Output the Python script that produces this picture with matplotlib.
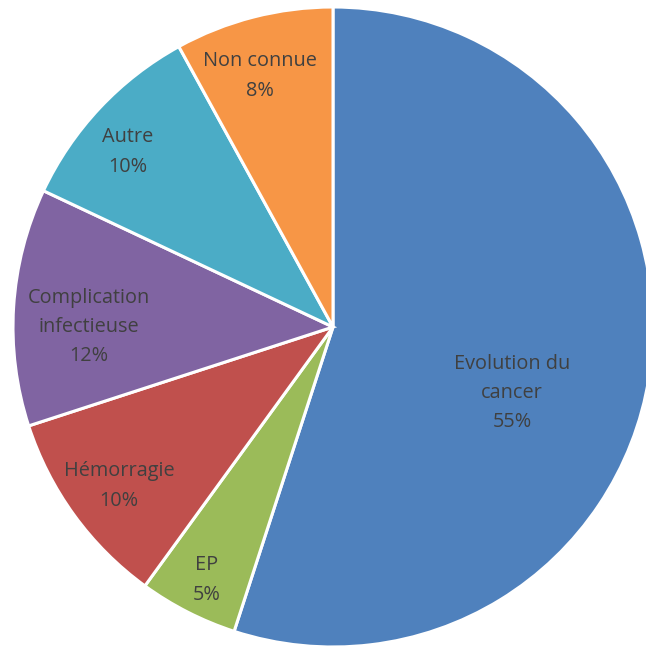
import matplotlib.pyplot as plt

# data (clockwise from 12 o'clock)
categories = ['Evolution du\ncancer', 'EP', 'Hémorragie', 'Complication\ninfectieuse', 'Autre', 'Non connue']
values = [55, 5, 10, 12, 10, 8]
colors = ['#4F81BD', '#9BBB59', '#C0504D', '#8064A2', '#4BACC6', '#F79646']
# label centres in pixels (x, y from top)
label_pos = [(512, 393), (207, 580), (119, 486), (89, 327), (128, 152), (260, 76)]

W, H = 646, 650
fig = plt.figure(figsize=(W / 100, H / 100), dpi=100)
ax = fig.add_axes([0, 0, 1, 1])
ax.pie(values, colors=colors, startangle=90, counterclock=False,
       center=(333, H - 327), radius=320,
       wedgeprops=dict(edgecolor='white', linewidth=2.2))
ax.set_xlim(0, W)
ax.set_ylim(0, H)
ax.set_aspect('equal')
ax.axis('off')

for cat, v, (x, y) in zip(categories, values, label_pos):
    ax.text(x, H - y, f'{cat}\n{v}%', ha='center', va='center',
            fontsize=14.3, color='#404040', family='Open Sans', linespacing=1.62)

fig.savefig('out.png', dpi=100)
